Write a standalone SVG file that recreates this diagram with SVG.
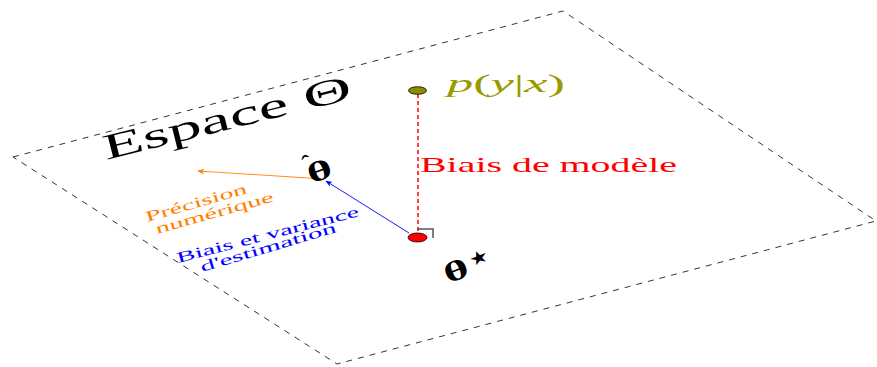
<svg xmlns="http://www.w3.org/2000/svg" width="877" height="367" viewBox="0 0 877 367">
<style>
.serif{font-family:"Liberation Serif","DejaVu Serif",serif}
.dash{fill:none;stroke:#000;stroke-width:0.8;stroke-dasharray:6 6}
</style>
<defs>
<marker id="ab" viewBox="0 0 10 10" refX="9" refY="5" markerWidth="7" markerHeight="7" orient="auto" markerUnits="userSpaceOnUse"><path d="M0,1 L10,5 L0,9 L3,5 z" fill="#0000ff"/></marker>
<marker id="ao" viewBox="0 0 10 10" refX="9" refY="5" markerWidth="7" markerHeight="7" orient="auto" markerUnits="userSpaceOnUse"><path d="M0,1 L10,5 L0,9 L3,5 z" fill="#ff8000"/></marker>
</defs>
<g id="plane">
<polygon class="dash" points="13,157 563,11 876,221 337,364"/>
<text class="serif" font-size="36" transform="translate(106,160) rotate(-14)" textLength="255" lengthAdjust="spacingAndGlyphs">Espace Θ</text>
</g>
<g id="connectors">
<line x1="418" y1="94" x2="418" y2="233" stroke="#ff0000" stroke-width="1.5" stroke-dasharray="4 3"/>
<path d="M417,229 H433 V238" fill="none" stroke="#555" stroke-width="1.5"/>
<line x1="409" y1="233" x2="326" y2="181" stroke="#0000ff" stroke-width="0.9" marker-end="url(#ab)"/>
<line x1="324" y1="179" x2="198" y2="171" stroke="#ff8000" stroke-width="0.9" marker-end="url(#ao)"/>
</g>
<g id="p-true">
<ellipse cx="417.5" cy="90.5" rx="9" ry="3.8" fill="#8c8c00" stroke="#000" stroke-width="0.8"/>
<text class="serif" font-size="25" fill="#9a9a00" x="447" y="92" textLength="118" lengthAdjust="spacingAndGlyphs"><tspan font-style="italic">p</tspan>(<tspan font-style="italic">y</tspan>|<tspan font-style="italic">x</tspan>)</text>
</g>
<g id="theta-star">
<ellipse cx="417.5" cy="237.5" rx="9.5" ry="4.5" fill="#ff0000" stroke="#000" stroke-width="0.8"/>
<text class="serif" font-size="28" font-weight="bold" transform="translate(448,284) rotate(-22) scale(1.7,1)">θ</text>
<text class="serif" font-size="18" transform="translate(472,267) rotate(-22) scale(1.2,1)">★</text>
</g>
<g id="theta-hat">
<text class="serif" font-size="28" font-weight="bold" transform="translate(311,184) rotate(-20) scale(1.7,1)">θ</text>
<text class="serif" font-size="20" font-weight="bold" transform="translate(306,170) rotate(-25) scale(1.3,1)">ˆ</text>
</g>
<g id="model-bias">
<text class="serif" font-size="22" fill="#ff0000" x="420" y="172" textLength="257" lengthAdjust="spacingAndGlyphs">Biais de modèle</text>
</g>
<g id="numeric">
<text class="serif" font-size="15" fill="#ff8000" transform="translate(147,222) rotate(-16)" textLength="105" lengthAdjust="spacingAndGlyphs">Précision</text>
<text class="serif" font-size="15" fill="#ff8000" transform="translate(157,234) rotate(-15.6)" textLength="122" lengthAdjust="spacingAndGlyphs">numérique</text>
</g>
<g id="estimation">
<text class="serif" font-size="15" fill="#0000ff" transform="translate(178,263) rotate(-14.5)" textLength="188" lengthAdjust="spacingAndGlyphs">Biais et variance</text>
<text class="serif" font-size="15" fill="#0000ff" transform="translate(202,272) rotate(-16.5)" textLength="141" lengthAdjust="spacingAndGlyphs">d'estimation</text>
</g>
</svg>
